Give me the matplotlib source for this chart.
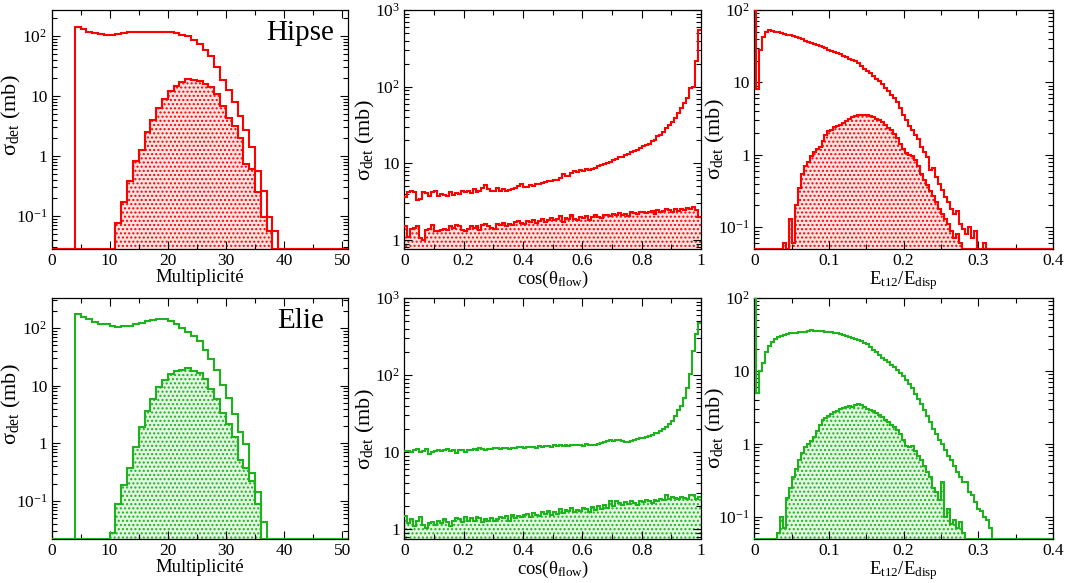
import numpy as np
import matplotlib
matplotlib.use("Agg")
import matplotlib.pyplot as plt
from matplotlib import ticker

plt.rcParams.update({
    "font.family": ["Liberation Serif", "DejaVu Serif"],
    "mathtext.fontset": "custom",
    "mathtext.rm": "Liberation Serif",
    "mathtext.it": "Liberation Serif:italic",
    "mathtext.bf": "Liberation Serif:bold",
    "hatch.linewidth": 1.0,
})

# ---------------- data ----------------
# Multiplicity histograms (bin width 1)
mult_edges = np.arange(0, 52)
hipse_mult_all_start = 4
hipse_mult_all = [141, 128, 117, 110, 106, 105, 105, 108, 111, 115,
                  118, 117, 115, 115, 117, 115, 115, 110, 104, 99,
                  87, 73, 58, 45.7, 30.3, 18.7, 12.4, 7.9, 4.7, 2.72,
                  1.43, 0.55, 0.26, 0.094, 0.056]
hipse_mult_sel_start = 11
hipse_mult_sel = [0.077, 0.167, 0.386, 0.83, 1.23, 2.48, 4.0, 6.35, 8.75, 12,
                  14.6, 17, 19.4, 18.7, 17.5, 16, 14.0, 10.6, 6.7, 4.3,
                  3.2, 2.0, 0.74, 0.6, 0.25, 0.094, 0.056]
elie_mult_all_start = 4
elie_mult_all = [173, 155, 140, 127, 119, 115, 108, 104, 107, 108,
                 116, 124, 131, 136, 140, 140, 132, 119, 101, 86,
                 72, 59, 41, 29, 18.3, 10.4, 6.1, 3.2, 1.6, 0.97,
                 0.31, 0.145, 0.044]
elie_mult_sel_start = 10
elie_mult_sel = [0.028, 0.088, 0.193, 0.38, 0.85, 1.9, 3.7, 5.9, 9.4, 12.6,
                 16, 17.8, 19, 20, 17.6, 16.4, 13.1, 8.8, 5.9, 3.4,
                 2.2, 1.3, 0.51, 0.38, 0.22, 0.088]

# cos(theta_flow) histograms (100 bins on [0,1])
cos_edges = np.linspace(0, 1, 101)
hipse_cos_all = [3.6, 4.2, 4.3, 4.2, 3.3, 3.4, 4.2, 4.1, 3.8, 4.2,
                 4.4, 3.8, 4.0, 3.9, 3.7, 4.2, 3.9, 4.1, 4.0, 4.3,
                 4.2, 4.4, 4.1, 4.6, 4.2, 4.4, 4.7, 5.2, 4.6, 4.3,
                 4.4, 4.7, 4.3, 4.6, 4.4, 4.5, 4.6, 4.7, 5.0, 5.4,
                 4.9, 4.9, 5.2, 5.0, 5.4, 5.3, 5.5, 5.7, 5.8, 5.8,
                 6.1, 6.1, 6.4, 7.2, 6.9, 6.9, 7.4, 8.0, 7.8, 8.3,
                 8.0, 8.4, 8.3, 8.4, 8.7, 9.1, 9.5, 9.8, 10.1, 10.4,
                 10.9, 11.3, 12.0, 12.2, 12.9, 13.3, 13.9, 14.3, 15.0, 15.9,
                 16.6, 17.4, 18.0, 19.4, 20.3, 22.5, 23.6, 26.0, 28.7, 31.6,
                 35.0, 38.6, 44.8, 52.0, 60.8, 70.6, 95.0, 100.0, 218.0, 548.0]
hipse_cos_sel = [1.5, 1.1, 1.4, 1.45, 1.5, 1.05, 1.0, 1.35, 1.4, 1.55,
                 1.3, 1.3, 1.35, 1.4, 1.35, 1.5, 1.45, 1.55, 1.5, 1.35,
                 1.3, 1.4, 1.5, 1.45, 1.5, 1.35, 1.55, 1.6, 1.5, 1.45,
                 1.4, 1.6, 1.55, 1.65, 1.5, 1.6, 1.55, 1.7, 1.75, 1.65,
                 1.6, 1.75, 1.7, 1.8, 1.65, 1.75, 1.9, 1.7, 1.85, 1.95,
                 1.8, 1.9, 2.05, 1.7, 1.95, 1.9, 2.1, 1.9, 1.85, 2.0,
                 1.95, 2.05, 1.85, 2.0, 2.1, 2.0, 1.95, 2.15, 2.1, 2.05,
                 2.2, 2.1, 2.25, 2.15, 2.2, 2.05, 2.3, 2.25, 2.2, 2.3,
                 2.35, 2.25, 2.3, 2.4, 2.2, 2.45, 2.35, 2.4, 2.5, 2.45,
                 2.35, 2.55, 2.4, 2.5, 2.45, 2.6, 2.5, 2.7, 2.45, 2.0]
elie_cos_all = [10.3, 10.5, 10.2, 10.8, 11.0, 10.0, 10.5, 11.0, 9.6, 10.0,
                10.4, 10.8, 10.3, 10.6, 10.9, 10.4, 10.8, 9.7, 10.6, 10.8,
                10.2, 10.8, 10.6, 11.0, 10.8, 11.2, 11.0, 10.7, 11.0, 10.9,
                11.2, 11.5, 11.0, 11.4, 11.3, 11.0, 11.5, 11.2, 11.6, 11.8,
                11.4, 11.7, 11.6, 11.8, 11.5, 12.0, 11.8, 12.2, 12.0, 11.8,
                12.3, 12.0, 12.4, 12.1, 12.6, 12.2, 12.5, 12.3, 12.6, 12.4,
                12.2, 12.8, 12.5, 12.6, 12.4, 12.8, 13.2, 13.5, 13.8, 14.2,
                14.0, 14.3, 14.5, 14.0, 13.4, 13.4, 14.0, 14.4, 14.8, 15.2,
                15.5, 15.8, 16.3, 16.9, 17.5, 18.0, 18.9, 19.9, 21.0, 23.0,
                25.5, 29.5, 35.0, 40.0, 51.0, 69.0, 103.0, 207.0, 341.0, 480.0]
elie_cos_sel = [1.5, 1.2, 1.35, 1.1, 1.3, 1.45, 1.15, 1.05, 1.2, 1.25,
                1.15, 1.3, 1.2, 1.35, 1.25, 1.1, 1.3, 1.4, 1.35, 1.25,
                1.45, 1.3, 1.4, 1.3, 1.45, 1.4, 1.25, 1.35, 1.3, 1.4,
                1.3, 1.35, 1.45, 1.4, 1.5, 1.3, 1.55, 1.4, 1.5, 1.45,
                1.55, 1.6, 1.45, 1.65, 1.55, 1.5, 1.7, 1.6, 1.75, 1.55,
                1.7, 1.6, 1.85, 1.65, 1.8, 1.75, 1.9, 1.7, 1.8, 1.75,
                1.9, 1.85, 1.7, 1.95, 1.8, 2.0, 1.85, 2.1, 1.9, 2.3,
                2.0, 2.35, 2.2, 2.1, 2.25, 2.15, 2.3, 2.2, 2.05, 2.35,
                2.25, 2.4, 2.3, 2.2, 2.4, 2.35, 2.5, 2.4, 2.75, 2.5,
                2.6, 2.55, 2.45, 2.6, 2.55, 2.5, 2.8, 2.75, 2.45, 2.6]

# Et12/Edisp histograms: narrow first bin [0,0.002) then bins of 0.004
et_edges = np.r_[0.0, np.arange(0.002, 0.3225, 0.004)]
hipse_et_all = [100, 8, 28, 43, 50, 53, 52, 50, 49, 47.5,
                46.5, 45.5, 44.5, 43.5, 42, 41, 39.5, 37.5, 36.5, 35.5,
                34, 33, 32, 31, 29.5, 28.2, 27.5, 26.5, 25.8, 24.5,
                23.3, 22.2, 21, 20.3, 19.5, 18.3, 17, 15.5, 14.6, 13.4,
                12.4, 11.2, 10.3, 9.4, 8.3, 7.5, 6.8, 6.0, 5.3, 4.4,
                3.6, 3.0, 2.5, 2.2, 1.9, 1.65, 1.3, 1.1, 0.92, 0.62,
                0.65, 0.5, 0.4, 0.33, 0.26, 0.22, 0.18, 0.15, 0.17, 0.11,
                0.095, 0.08, 0.1, 0.07, 0.09, 0, 0, 0.06, 0, 0,
                0]
hipse_et_sel = [0, 0, 0, 0, 0, 0, 0, 0, 0, 0,
                0.06, 0, 0.13, 0.06, 0.2, 0.35, 0.55, 0.7, 0.8, 0.95,
                1.1, 1.2, 1.3, 1.55, 1.85, 2.1, 2.2, 2.4, 2.5, 2.6,
                2.75, 2.9, 3.1, 3.3, 3.4, 3.55, 3.5, 3.6, 3.5, 3.4,
                3.3, 3.15, 3.0, 2.85, 2.6, 2.35, 2.2, 1.95, 1.7, 1.4,
                1.2, 1.05, 1.0, 0.95, 0.85, 0.7, 0.55, 0.45, 0.38, 0.32,
                0.27, 0.22, 0.18, 0.15, 0.13, 0.11, 0.09, 0.07, 0.08, 0.06,
                0, 0, 0, 0, 0, 0, 0, 0, 0, 0,
                0]
elie_et_all = [100, 5, 10, 13, 18, 22, 25, 27.5, 29, 30.5,
               31.4, 32, 32.7, 33, 33.5, 34, 34.5, 34.7, 35, 36,
               35.8, 35.5, 35, 34.8, 34.5, 34, 33.8, 33.3, 32.7, 32,
               31.4, 30.5, 29.6, 28.6, 27.8, 26.8, 25.6, 24.5, 23.2, 21.5,
               19.6, 18.2, 16.6, 15.3, 14.2, 13.1, 12.2, 11.4, 10.4, 9.3,
               8.5, 7.5, 6.7, 5.8, 4.9, 4.1, 3.5, 2.9, 2.4, 2.0,
               1.6, 1.35, 1.15, 1.0, 0.82, 0.69, 0.6, 0.5, 0.42, 0.35,
               0.3, 0.3, 0.22, 0.2, 0.16, 0.13, 0.12, 0.1, 0.09, 0.07,
               0]
elie_et_sel = [0, 0, 0, 0, 0, 0, 0, 0, 0.06, 0.1,
               0.07, 0.18, 0.25, 0.35, 0.45, 0.6, 0.75, 0.9, 1.0, 1.1,
               1.25, 1.5, 1.85, 2.1, 2.25, 2.4, 2.6, 2.75, 2.85, 3.0,
               3.1, 3.2, 3.3, 3.25, 3.45, 3.5, 3.4, 3.2, 3.05, 2.95,
               2.8, 2.65, 2.5, 2.35, 2.15, 1.98, 1.85, 1.7, 1.55, 1.35,
               1.15, 0.95, 0.9, 0.95, 0.8, 0.69, 0.6, 0.5, 0.42, 0.35,
               0.25, 0.22, 0.17, 0.3, 0.1, 0.13, 0.08, 0.09, 0.07, 0.085,
               0.06, 0, 0, 0, 0, 0, 0, 0, 0, 0,
               0]

model_names = ["Hipse", "Elie"]
RED = "#ff0000"
GREEN = "#1db31d"
FILL_RED = "#ffe4e4"
FILL_GREEN = "#e2f6e2"


def pad(start, vals, n):
    out = np.zeros(n)
    out[start:start + len(vals)] = vals
    return out


# ---------------- layout ----------------
W, H = 1067, 583
fig = plt.figure(figsize=(W / 100, H / 100), dpi=100)
cols = [(51.5, 348.0), (404.3, 701.0), (754.3, 1053.0)]
rows = [(10.0, 249.0), (298.0, 539.0)]
ylabel_right_px = [23.0, 377.0, 727.0]
ylabel_ypos = [0.56, 0.455, 0.46]


def make_ax(r, c):
    x0, x1 = cols[c]
    y0, y1 = rows[r]
    ax = fig.add_axes([x0 / W, 1 - y1 / H, (x1 - x0) / W, (y1 - y0) / H])
    return ax


def logfmt(v, pos):
    if v <= 0:
        return ""
    e = int(round(np.log10(v)))
    if abs(v - 10.0 ** e) > 1e-6 * 10.0 ** e:
        return ""
    if e == 0:
        return "1"
    if e == 1:
        return "10"
    return r"$10^{%d}$" % e


def gfmt(v, pos):
    return "%g" % round(v, 6)


def style(ax, c, xlim, ylim, xmaj, xmin_, xlabel):
    ax.set_xlim(*xlim)
    ax.set_yscale("log")
    ax.set_ylim(*ylim)
    ax.xaxis.set_major_locator(ticker.MultipleLocator(xmaj))
    ax.xaxis.set_minor_locator(ticker.MultipleLocator(xmin_))
    ax.xaxis.set_major_formatter(ticker.FuncFormatter(gfmt))
    ax.yaxis.set_major_locator(ticker.LogLocator(base=10, numticks=12))
    ax.yaxis.set_minor_locator(ticker.LogLocator(base=10, subs=np.arange(2, 10), numticks=12))
    ax.yaxis.set_major_formatter(ticker.FuncFormatter(logfmt))
    ax.yaxis.set_minor_formatter(ticker.NullFormatter())
    ax.tick_params(which="both", direction="in", top=True, right=True, width=0.8)
    ax.tick_params(which="major", length=6, labelsize=12.5, pad=3)
    ax.tick_params(which="minor", length=3.5)
    for s in ax.spines.values():
        s.set_linewidth(0.9)
    ax.set_xlabel(xlabel, fontsize=13.5, labelpad=0)
    ax.set_ylabel("σ$_{\\rm det}$ (mb)", fontsize=16)
    x0, x1 = cols[c]
    ax.yaxis.set_label_coords((ylabel_right_px[c] - x0) / (x1 - x0), ylabel_ypos[c])


def draw(ax, edges, vals, ymin, xmax, color, fillcolor=None):
    e = np.asarray(edges, float)
    v = np.maximum(np.asarray(vals, float), ymin)
    if e[-1] < xmax:
        e = np.r_[e, xmax]
        v = np.r_[v, ymin]
    if fillcolor is not None:
        ax.stairs(v, e, baseline=ymin, fill=True, facecolor=fillcolor,
                  edgecolor=color, hatch="....", linewidth=0, zorder=1)
    ax.stairs(v, e, baseline=None, color=color, linewidth=1.5, zorder=3)


panels = [
    (0, model_names[0], RED, FILL_RED,
     (hipse_mult_all_start, hipse_mult_all, hipse_mult_sel_start, hipse_mult_sel),
     hipse_cos_all, hipse_cos_sel, hipse_et_all, hipse_et_sel,
     (0.028, 270), (0.763, 1000), (0.05, 100)),
    (1, model_names[1], GREEN, FILL_GREEN,
     (elie_mult_all_start, elie_mult_all, elie_mult_sel_start, elie_mult_sel),
     elie_cos_all, elie_cos_sel, elie_et_all, elie_et_sel,
     (0.022, 330), (0.75, 1000), (0.05, 100)),
]

for (r, name, col, fcol, mult, cos_all, cos_sel, et_all, et_sel,
     yl1, yl2, yl3) in panels:
    nb = len(mult_edges) - 1
    # multiplicity
    ax = make_ax(r, 0)
    style(ax, 0, (0, 51), yl1, 10, 5, "Multiplicité")
    draw(ax, mult_edges, pad(mult[2], mult[3], nb), yl1[0], 51, col, fcol)
    draw(ax, mult_edges, pad(mult[0], mult[1], nb), yl1[0], 51, col)
    ax.text(0.84, 0.905, name, transform=ax.transAxes, fontsize=21,
            ha="center", va="center")
    # cos theta flow
    ax = make_ax(r, 1)
    style(ax, 1, (0, 1), yl2, 0.2, 0.1, "cos(θ$_{\\rm flow}$)")
    draw(ax, cos_edges, cos_sel, yl2[0], 1, col, fcol)
    draw(ax, cos_edges, cos_all, yl2[0], 1, col)
    # Et12 / Edisp
    ax = make_ax(r, 2)
    style(ax, 2, (0, 0.4), yl3, 0.1, 0.05, r"E$_{\rm t12}$/E$_{\rm disp}$")
    draw(ax, et_edges, et_sel, yl3[0], 0.4, col, fcol)
    draw(ax, et_edges, et_all, yl3[0], 0.4, col)

fig.savefig("out.png", dpi=100)
